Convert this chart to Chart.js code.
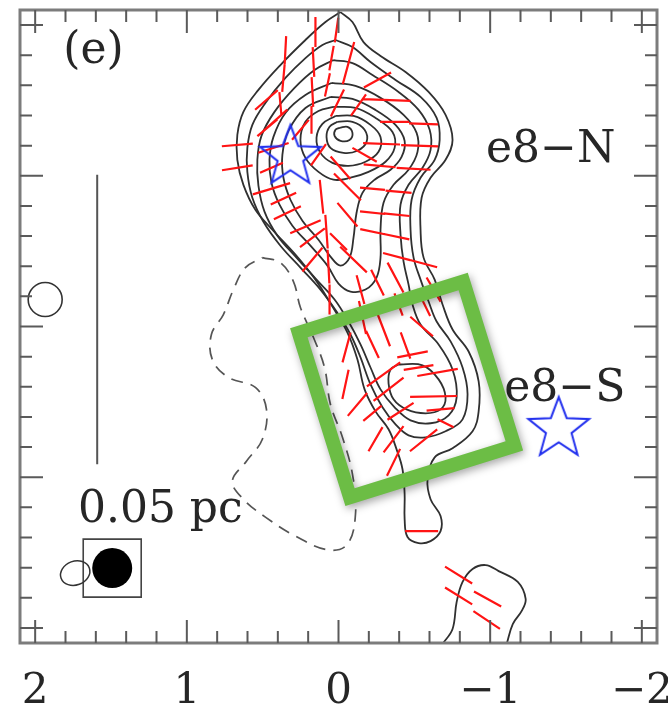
<!DOCTYPE html>
<html>
<head>
<meta charset="utf-8">
<script src="https://cdn.jsdelivr.net/npm/chart.js@4.4.1/dist/chart.umd.min.js"></script>
<style>
  html, body { margin: 0; padding: 0; background: #fff; }
  #wrap { width: 668px; height: 714px; }
</style>
</head>
<body>
<div id="wrap"><canvas id="c" width="668" height="714"></canvas></div>
<script>
// ---- axis ticks (offsets, arcsec) ----
const xLabelTicks = [-2, -1, 0, 1, 2];
const majorTicks = [-2, -1, 0, 1, 2];
const minorTicks = [-2, -1.8, -1.6, -1.4, -1.2, -1, -0.8, -0.6, -0.4, -0.2, 0, 0.2, 0.4, 0.6, 0.8, 1, 1.2, 1.4, 1.6, 1.8, 2];

// ---- intensity contours (x = offset east, y = offset north) ----
const contour1 = [[-0.013,2.086],[-0.092,2.020],[-0.165,1.887],[-0.277,1.795],[-0.442,1.689],[-0.594,1.556],[-0.706,1.404],[-0.752,1.238],[-0.706,1.106],[-0.607,0.987],[-0.548,0.854],[-0.541,0.642],[-0.561,0.457],[-0.634,0.311],[-0.686,0.146],[-0.752,-0.020],[-0.858,-0.166],[-0.924,-0.364],[-0.924,-0.563],[-0.884,-0.695],[-0.752,-0.808],[-0.634,-0.868],[-0.587,-1.013],[-0.607,-1.146],[-0.673,-1.258],[-0.673,-1.358],[-0.607,-1.424],[-0.528,-1.437],[-0.455,-1.397],[-0.436,-1.278],[-0.436,-1.113],[-0.422,-0.947],[-0.383,-0.815],[-0.330,-0.682],[-0.244,-0.563],[-0.172,-0.417],[-0.125,-0.219],[-0.059,-0.040],[0.040,0.132],[0.152,0.311],[0.284,0.477],[0.436,0.642],[0.548,0.775],[0.627,0.940],[0.667,1.106],[0.667,1.272],[0.627,1.424],[0.528,1.570],[0.383,1.735],[0.218,1.901],[0.086,2.020]];
const contour2 = [[0.020,1.901],[-0.092,1.854],[-0.211,1.755],[-0.376,1.636],[-0.541,1.523],[-0.647,1.384],[-0.667,1.238],[-0.634,1.106],[-0.541,0.987],[-0.482,0.841],[-0.475,0.642],[-0.495,0.457],[-0.541,0.311],[-0.594,0.166],[-0.647,0.033],[-0.739,-0.099],[-0.818,-0.272],[-0.851,-0.450],[-0.818,-0.616],[-0.706,-0.695],[-0.574,-0.735],[-0.462,-0.722],[-0.376,-0.649],[-0.290,-0.536],[-0.211,-0.384],[-0.145,-0.205],[-0.079,-0.053],[0.013,0.099],[0.119,0.245],[0.251,0.391],[0.383,0.536],[0.495,0.695],[0.568,0.854],[0.601,1.026],[0.601,1.185],[0.568,1.338],[0.482,1.483],[0.350,1.649],[0.218,1.781],[0.106,1.868]];
const contour3 = [[0.033,1.768],[-0.092,1.748],[-0.224,1.669],[-0.396,1.556],[-0.528,1.437],[-0.601,1.305],[-0.607,1.172],[-0.554,1.053],[-0.462,0.940],[-0.409,0.808],[-0.409,0.609],[-0.429,0.430],[-0.462,0.278],[-0.488,0.146],[-0.541,0.013],[-0.660,-0.119],[-0.752,-0.285],[-0.779,-0.470],[-0.726,-0.589],[-0.607,-0.642],[-0.475,-0.623],[-0.370,-0.536],[-0.277,-0.417],[-0.211,-0.272],[-0.145,-0.119],[-0.066,0.033],[0.026,0.179],[0.145,0.311],[0.277,0.457],[0.403,0.603],[0.488,0.762],[0.528,0.934],[0.535,1.106],[0.508,1.265],[0.422,1.424],[0.290,1.583],[0.158,1.702]];
const contour4 = [[0.046,1.616],[-0.112,1.596],[-0.277,1.517],[-0.429,1.404],[-0.515,1.285],[-0.521,1.159],[-0.462,1.040],[-0.363,0.940],[-0.297,0.821],[-0.277,0.642],[-0.277,0.457],[-0.251,0.325],[-0.178,0.245],[-0.079,0.232],[0.000,0.285],[0.073,0.404],[0.185,0.536],[0.304,0.669],[0.389,0.808],[0.442,0.954],[0.455,1.106],[0.429,1.258],[0.350,1.417],[0.218,1.536]];
const contour5 = [[0.053,1.523],[-0.092,1.510],[-0.244,1.437],[-0.376,1.338],[-0.436,1.232],[-0.416,1.126],[-0.343,1.040],[-0.238,0.974],[-0.158,0.887],[-0.119,0.755],[-0.099,0.589],[-0.073,0.457],[-0.013,0.404],[0.053,0.464],[0.132,0.576],[0.238,0.702],[0.317,0.841],[0.363,0.987],[0.370,1.139],[0.330,1.298],[0.218,1.450]];
const contour6 = [[0.033,1.457],[-0.112,1.450],[-0.244,1.384],[-0.356,1.291],[-0.370,1.185],[-0.310,1.093],[-0.198,1.026],[-0.079,0.987],[0.033,0.974],[0.132,1.026],[0.218,1.119],[0.251,1.238],[0.218,1.358],[0.132,1.430]];
const contour7 = [[0.020,1.397],[-0.099,1.397],[-0.211,1.338],[-0.277,1.258],[-0.264,1.159],[-0.178,1.093],[-0.066,1.066],[0.040,1.086],[0.119,1.152],[0.145,1.252],[0.106,1.344]];
const contour8 = [[0.007,1.358],[-0.092,1.358],[-0.172,1.305],[-0.185,1.225],[-0.125,1.166],[-0.033,1.152],[0.053,1.185],[0.079,1.258],[0.059,1.325]];
const contour9 = [[-0.007,1.318],[-0.059,1.325],[-0.092,1.285],[-0.073,1.238],[-0.013,1.232],[0.026,1.265],[0.020,1.305]];
const contourSouth = [[-0.396,-0.252],[-0.554,-0.258],[-0.660,-0.351],[-0.706,-0.470],[-0.673,-0.550],[-0.574,-0.576],[-0.449,-0.550],[-0.363,-0.483],[-0.330,-0.377],[-0.343,-0.285]];
const contourSE = [[-0.686,-2.106],[-0.752,-2.007],[-0.779,-1.828],[-0.818,-1.695],[-0.884,-1.609],[-0.970,-1.583],[-1.056,-1.623],[-1.182,-1.695],[-1.234,-1.808],[-1.208,-1.887],[-1.149,-1.974],[-1.109,-2.106]];
const contourNeg = [[0.502,0.457],[0.383,0.424],[0.297,0.298],[0.251,0.126],[0.165,-0.073],[0.092,-0.272],[0.053,-0.517],[-0.026,-0.735],[-0.092,-0.980],[-0.112,-1.245],[-0.059,-1.444],[0.066,-1.483],[0.284,-1.391],[0.482,-1.265],[0.627,-1.146],[0.700,-1.026],[0.607,-0.894],[0.502,-0.748],[0.475,-0.550],[0.548,-0.404],[0.726,-0.338],[0.832,-0.219],[0.838,-0.053],[0.759,0.079],[0.693,0.245],[0.614,0.391]];

// ---- polarization segments: centre, position angle (deg, E of N), length ----
const vecX = [0.350,0.363,0.383,0.152,0.165,0.172,0.178,0.013,0.046,0.073,
  -0.066,-0.257,0.475,0.436,-0.317,-0.561,-0.370,-0.535,-0.284,-0.495,
  -0.271,-0.396,-0.224,-0.383,-0.224,-0.383,-0.224,-0.561,-0.383,-0.013,
  -0.059,-0.059,-0.099,0.000,0.007,-0.172,0.667,0.667,0.469,0.442,
  0.442,0.337,0.218,0.172,0.172,0.363,0.429,0.251,0.132,0.112,
  0.079,0.066,0.059,-0.257,-0.376,-0.396,-0.561,-0.297,-0.442,-0.053,
  -0.046,-0.158,-0.548,-0.297,-0.330,-0.409,-0.488,-0.528,-0.653,-0.627,
  -0.363,-0.363,-0.561,-0.706,-0.224,-0.548,-0.792,-0.792,-0.983,-0.977,
  -0.132,-0.145,-0.627,-0.224,-0.125,-0.673,-0.244];
const vecY = [1.834,1.649,1.477,1.954,1.755,1.556,1.371,1.967,1.781,1.603,
  1.748,1.636,1.503,1.351,1.503,1.344,1.358,1.199,1.212,1.046,
  1.066,0.894,0.914,0.742,0.755,0.596,0.629,0.417,0.464,1.053,
  0.927,0.742,0.444,0.563,1.483,1.139,1.205,1.053,1.318,1.053,
  0.914,0.755,0.662,0.589,0.444,0.848,1.185,1.305,1.139,0.861,
  0.629,0.397,0.179,0.291,0.325,0.146,0.159,-0.020,-0.126,-0.139,
  -0.384,0.060,0.000,-0.318,-0.417,-0.563,-0.185,-0.272,-0.305,-0.464,
  -0.748,-0.901,-0.755,-0.642,-0.576,-1.358,-1.649,-1.788,-1.808,-1.947,
  1.470,0.245,0.245,-0.119,-0.517,-0.550,-0.748];
const vecPA = [-3,-5,5,0,3,3,0,-8,-10,-12,
  -15,-61,-49,-48,88,88,90,88,88,87,
  85,85,85,84,84,78,78,75,75,41,
  45,40,46,45,-26,60,-85,-81,-50,-66,
  -73,-64,-67,-53,-40,-65,-72,-40,-35,6,
  4,3,0,26,28,20,26,21,20,-15,
  -12,12,49,-54,-52,-57,-79,-81,-80,-89,
  -37,-26,-51,63,-50,90,58,58,61,56,
  -35,15,30,25,-40,-85,-30];
const vecLen = [0.185,0.185,0.158,0.198,0.198,0.198,0.185,0.165,0.165,0.158,
  0.290,0.205,0.198,0.264,0.317,0.191,0.191,0.244,0.244,0.224,
  0.211,0.172,0.165,0.172,0.165,0.172,0.165,0.185,0.185,0.198,
  0.251,0.205,0.244,0.158,0.198,0.185,0.205,0.205,0.172,0.165,
  0.257,0.198,0.218,0.205,0.205,0.185,0.211,0.172,0.172,0.224,
  0.224,0.224,0.198,0.191,0.224,0.158,0.198,0.238,0.185,0.205,
  0.198,0.224,0.198,0.271,0.251,0.205,0.205,0.198,0.271,0.310,
  0.218,0.198,0.231,0.119,0.158,0.218,0.211,0.211,0.205,0.211,
  0.172,0.198,0.185,0.198,0.198,0.185,0.185];

// ---- sources, markers, beam and scale bar ----
const starX = [0.317, -1.452];
const starY = [1.146, -0.659];
const markerX = [1.934];
const markerY = [0.179];
const beamX = [1.492];
const beamY = [-1.603];
const beam2 = { x: 1.736, y: -1.636, a: 0.099, b: 0.079, angle: -20 };
const scaleBarX = [1.591, 1.591];
const scaleBarY = [1.007, -0.914];
const zoomBox = { x: -0.449, y: -0.417, side: 1.135, angle: 17.3 };
const labels = [
  { text: '(e)', x: 1.815, y: 1.748, align: 'left' },
  { text: 'e8\u2212N', x: -1.399, y: 1.093, align: 'center' },
  { text: 'e8\u2212S', x: -1.492, y: -0.497, align: 'center' },
  { text: '0.05 pc', x: 1.175, y: -1.298, align: 'center' }
];

// ---- build datasets ----
const toPts = (arr, closed) => {
  const p = arr.map(([x, y]) => ({ x, y }));
  if (closed) p.push({ x: arr[0][0], y: arr[0][1] });
  return p;
};
const contourStyle = { type: 'line', borderColor: '#303030', borderWidth: 1.8, pointRadius: 0, tension: 0.38, fill: false, order: 5 };

const vecData = [];
vecX.forEach((x0, i) => {
  const h = vecLen[i] / 2, t = vecPA[i] * Math.PI / 180;
  const dx = h * Math.sin(t), dy = h * Math.cos(t);
  vecData.push({ x: x0 - dx, y: vecY[i] - dy }, { x: x0 + dx, y: vecY[i] + dy }, { x: x0 + dx, y: null });
});

function starImage(R, ratio, color, lw) {
  const s = Math.ceil(2 * R + 2 * lw + 2);
  const c = document.createElement('canvas');
  c.width = s; c.height = s;
  const g = c.getContext('2d');
  g.translate(s / 2, s / 2 + R * 0.095);
  g.beginPath();
  for (let i = 0; i < 10; i++) {
    const r = i % 2 ? R * ratio : R;
    const a = -Math.PI / 2 + i * Math.PI / 5;
    g.lineTo(r * Math.cos(a), r * Math.sin(a));
  }
  g.closePath();
  g.strokeStyle = color; g.lineWidth = lw; g.lineJoin = 'miter';
  g.stroke();
  return c;
}

const datasets = [
  ...[contour1, contour2, contour3, contour4, contour5, contour6, contour7, contour8, contour9, contourSouth]
    .map(c => Object.assign({ data: toPts(c, true) }, contourStyle)),
  Object.assign({ data: toPts(contourSE, false) }, contourStyle),
  { type: 'line', data: toPts(contourNeg, true), borderColor: '#555', borderWidth: 1.7, borderDash: [12, 8], pointRadius: 0, tension: 0.38, fill: false, order: 5 },
  { type: 'line', data: scaleBarX.map((x, i) => ({ x, y: scaleBarY[i] })), borderColor: '#555', borderWidth: 2, pointRadius: 0, order: 5 },
  { type: 'line', data: vecData, borderColor: '#ff1414', borderWidth: 2.2, pointRadius: 0, tension: 0, spanGaps: false, borderCapStyle: 'butt', order: 2 },
  { type: 'scatter', data: markerX.map((x, i) => ({ x, y: markerY[i] })), pointStyle: 'circle', pointRadius: 17, borderColor: '#333', borderWidth: 1.6, backgroundColor: 'rgba(0,0,0,0)', order: 1 },
  { type: 'scatter', data: beamX.map((x, i) => ({ x, y: beamY[i] })), pointStyle: 'rect', pointRadius: 41, borderColor: '#444', borderWidth: 1.6, backgroundColor: 'rgba(0,0,0,0)', order: 1 },
  { type: 'scatter', data: beamX.map((x, i) => ({ x, y: beamY[i] })), pointStyle: 'circle', pointRadius: 20, borderColor: '#000', borderWidth: 0, backgroundColor: '#000', order: 1 },
  { type: 'scatter', data: starX.map((x, i) => ({ x, y: starY[i] })), pointStyle: starImage(32, 0.42, '#2230ee', 2), pointRadius: 32, order: 0 }
];

const fmt = v => (v < 0 ? '\u2212' + Math.abs(v) : String(v));

const overlay = {
  id: 'overlay',
  afterDatasetsDraw(chart) {
    const { ctx, chartArea: a, scales: { x, y } } = chart;
    const px = v => x.getPixelForValue(v), py = v => y.getPixelForValue(v);
    ctx.save();

    // second beam ellipse
    const ex = px(beam2.x), ey = py(beam2.y);
    const erx = Math.abs(px(beam2.x + beam2.a) - ex), ery = Math.abs(py(beam2.y + beam2.b) - ey);
    ctx.beginPath();
    ctx.ellipse(ex, ey, erx, ery, beam2.angle * Math.PI / 180, 0, 2 * Math.PI);
    ctx.strokeStyle = '#333'; ctx.lineWidth = 1.5; ctx.stroke();

    // text annotations
    ctx.fillStyle = '#262626';
    ctx.font = '44px "DejaVu Serif"';
    ctx.textBaseline = 'alphabetic';
    labels.forEach(l => { ctx.textAlign = l.align; ctx.fillText(l.text, px(l.x), py(l.y)); });

    // highlighted region box
    ctx.save();
    const cx = px(zoomBox.x), cy = py(zoomBox.y);
    const half = Math.abs(px(zoomBox.x + zoomBox.side / 2) - cx);
    ctx.translate(cx, cy);
    ctx.rotate(-zoomBox.angle * Math.PI / 180);
    ctx.shadowColor = 'rgba(0,0,0,0.35)';
    ctx.shadowBlur = 8; ctx.shadowOffsetX = 2; ctx.shadowOffsetY = 3;
    ctx.strokeStyle = '#6cbd45'; ctx.lineWidth = 14; ctx.lineJoin = 'miter';
    ctx.strokeRect(-half, -half, 2 * half, 2 * half);
    ctx.restore();

    // frame
    ctx.strokeStyle = '#7c7c7c'; ctx.lineWidth = 3;
    ctx.strokeRect(a.left, a.top, a.right - a.left, a.bottom - a.top);

    // inward tick marks on all four sides
    ctx.strokeStyle = '#5a5a5a'; ctx.lineWidth = 2;
    const isMajor = v => majorTicks.some(m => Math.abs(m - v) < 1e-6);
    ctx.beginPath();
    minorTicks.forEach(v => {
      const len = isMajor(v) ? 23 : 12;
      const X = px(v), Y = py(v);
      ctx.moveTo(X, a.bottom); ctx.lineTo(X, a.bottom - len);
      ctx.moveTo(X, a.top); ctx.lineTo(X, a.top + len);
      ctx.moveTo(a.left, Y); ctx.lineTo(a.left + len, Y);
      ctx.moveTo(a.right, Y); ctx.lineTo(a.right - len, Y);
    });
    ctx.stroke();
    ctx.restore();
  }
};

new Chart(document.getElementById('c'), {
  type: 'scatter',
  data: { datasets },
  options: {
    responsive: false,
    animation: false,
    events: [],
    layout: { autoPadding: false, padding: { left: 20, right: 11, top: 10, bottom: 0 } },
    plugins: { legend: { display: false }, tooltip: { enabled: false } },
    scales: {
      x: {
        type: 'linear', min: -2.1, max: 2.1, reverse: true,
        grid: { display: false, drawTicks: false },
        border: { display: false },
        afterBuildTicks: s => { s.ticks = xLabelTicks.map(v => ({ value: v })); },
        afterFit: s => { s.height = 71; s.paddingLeft = 0; s.paddingRight = 0; },
        ticks: {
          autoSkip: false, maxRotation: 0, padding: 24,
          font: { family: 'DejaVu Serif', size: 42 }, color: '#262626',
          callback: v => fmt(v)
        }
      },
      y: { type: 'linear', min: -2.1, max: 2.1, display: false }
    }
  },
  plugins: [overlay]
});
</script>
</body>
</html>
